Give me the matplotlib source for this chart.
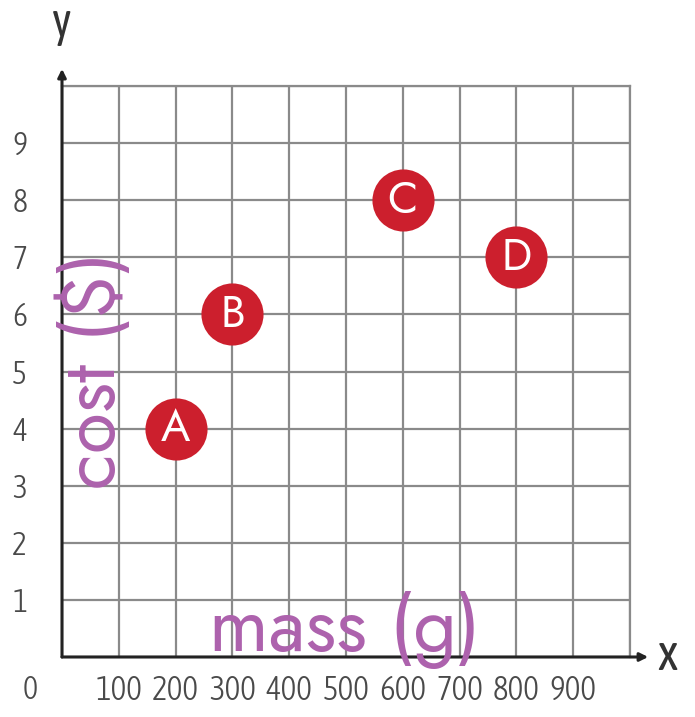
import numpy as np
import matplotlib.pyplot as plt

# data
names = ['A', 'B', 'C', 'D']
mass = [200, 300, 600, 800]
cost = [4, 6, 8, 7]
xticks = [100, 200, 300, 400, 500, 600, 700, 800, 900]
yticks = [1, 2, 3, 4, 5, 6, 7, 8, 9]

narrow = ['Asap Condensed', 'Archivo Narrow', 'DejaVu Sans']
geo = ['Jost', 'Didact Gothic', 'DejaVu Sans']
purple = '#ad62ad'
red = '#cc1f2d'

fig = plt.figure(figsize=(6.95, 7.17), dpi=100)
ax = fig.add_axes([62/695, 60/717, 568/695, 571/717])

ax.set_xlim(0, 1000)
ax.set_ylim(0, 10)
ax.set_xticks(np.arange(0, 1001, 100))
ax.set_yticks(np.arange(0, 11, 1))
ax.grid(True, color='#8a8a8a', linewidth=1.6)
ax.set_axisbelow(True)
ax.tick_params(length=0)
ax.set_xticklabels([str(t) if t in xticks else '' for t in range(0, 1001, 100)],
                   family=narrow, fontsize=24, fontweight=300, color='#4a4a4a')
ax.set_yticklabels([str(t) if t in yticks else '' for t in range(0, 11)],
                   family=narrow, fontsize=23, fontweight=300, color='#4a4a4a')
ax.tick_params(axis='x', pad=12)
ax.tick_params(axis='y', pad=25)

for s in ['top', 'right']:
    ax.spines[s].set_color('#8a8a8a')
    ax.spines[s].set_linewidth(1.6)
for s in ['left', 'bottom']:
    ax.spines[s].set_visible(False)

# axes with arrows
ax.annotate('', xy=(0, 10.3), xytext=(0, 0), annotation_clip=False,
            arrowprops=dict(arrowstyle='-|>', color='#222222', lw=2.2,
                            mutation_scale=12, shrinkA=0, shrinkB=0))
ax.annotate('', xy=(1032, 0), xytext=(0, 0), annotation_clip=False,
            arrowprops=dict(arrowstyle='-|>', color='#222222', lw=2.2,
                            mutation_scale=12, shrinkA=0, shrinkB=0))
ax.text(0, 10.7, 'y', fontsize=34, color='#333333', ha='center', va='bottom',
        family=narrow)
ax.text(1048, 0, 'x', fontsize=36, color='#333333', ha='left', va='center',
        family=narrow)
ax.annotate('0', xy=(0, 0), xytext=(-23, -24), textcoords='offset points',
            fontsize=23, fontweight=300, color='#4a4a4a', family=narrow,
            ha='center', va='center', annotation_clip=False)

# axis titles
ax.text(498, 0.1, 'mass (g)', fontsize=55, color=purple, ha='center',
        va='baseline', family=geo, fontweight='light')
ax.text(94, 5.03, 'cost ($)', fontsize=54, color=purple, ha='center',
        va='baseline', rotation=90, rotation_mode='anchor', family=geo,
        fontweight='light')

# points
ax.scatter(mass, cost, s=2000, color=red, zorder=3, linewidths=0)
for n, x, y in zip(names, mass, cost):
    ax.text(x, y, n, color='white', fontsize=32, ha='center', va='center',
            zorder=4, family=geo)

plt.savefig('out.png', dpi=100)
